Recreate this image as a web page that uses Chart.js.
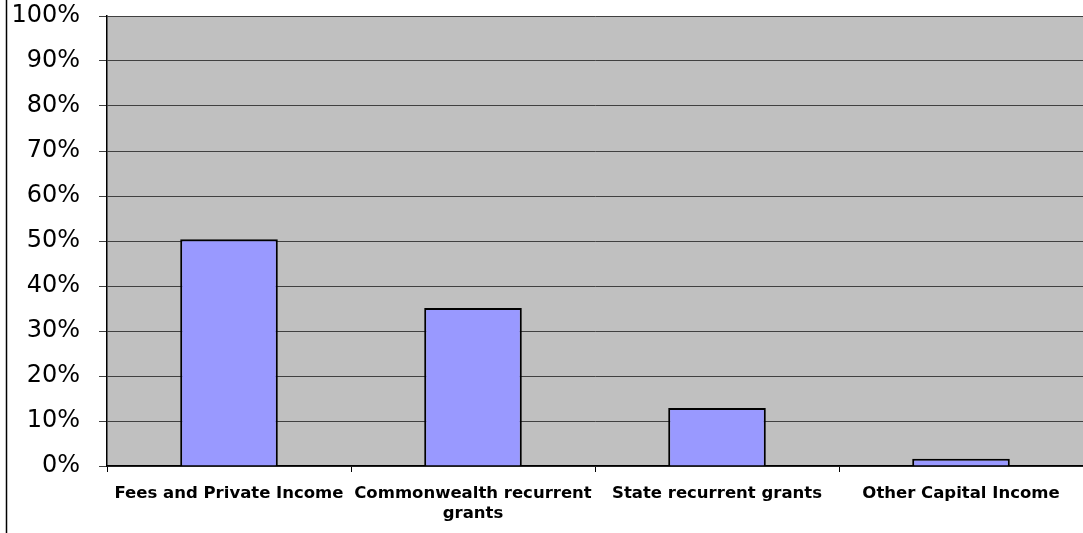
<!DOCTYPE html>
<html>
<head>
<meta charset="utf-8">
<script src="https://cdn.jsdelivr.net/npm/chart.js@4"></script>
<style>
html,body{margin:0;padding:0;background:#fff;}
#wrap{position:relative;width:1083px;height:533px;}
</style>
</head>
<body>
<div id="wrap"><canvas id="c" width="1083" height="533"></canvas></div>
<script>
const categories = ["Fees and Private Income", ["Commonwealth recurrent", "grants"], "State recurrent grants", "Other Capital Income"];
const shares = [50.4, 35.1, 12.9, 1.6];
const yTicks = [0, 10, 20, 30, 40, 50, 60, 70, 80, 90, 100];

const bgPlugin = {
  id: 'bg',
  beforeDraw(chart) {
    const {ctx, chartArea: a} = chart;
    ctx.save();
    ctx.fillStyle = '#C0C0C0';
    ctx.fillRect(a.left, a.top, a.right - a.left, a.bottom - a.top);
    ctx.strokeStyle = '#000';
    ctx.lineWidth = 1.5;
    ctx.beginPath();
    ctx.moveTo(6.5, 0);
    ctx.lineTo(6.5, chart.height);
    ctx.stroke();
    ctx.restore();
  }
};

new Chart(document.getElementById('c'), {
  type: 'bar',
  data: {
    labels: categories,
    datasets: [{
      data: shares,
      backgroundColor: '#9999FF',
      borderColor: '#000',
      borderWidth: 2,
      barPercentage: 0.4,
      categoryPercentage: 1
    }]
  },
  options: {
    responsive: false,
    animation: false,
    layout: {padding: {top: 16, left: 0, right: 0, bottom: 0}},
    plugins: {legend: {display: false}, tooltip: {enabled: false}},
    scales: {
      x: {
        offset: true,
        grid: {offset: true, drawOnChartArea: false, tickLength: 6, color: '#000', lineWidth: 1},
        border: {color: '#000', width: 1.5},
        ticks: {color: '#000', font: {family: 'DejaVu Sans', size: 16.5, weight: 'bold', lineHeight: 1.25}, padding: 11, maxRotation: 0, autoSkip: false},
        afterFit(s) { s.height = 67; s.paddingLeft = 0; s.paddingRight = 0; }
      },
      y: {
        min: 0, max: 100,
        afterBuildTicks(s) { s.ticks = yTicks.map(v => ({value: v})); },
        grid: {color: '#404040', lineWidth: 1, tickLength: 8},
        border: {color: '#000', width: 1.5},
        ticks: {color: '#000', font: {family: 'DejaVu Sans', size: 24}, padding: 19, callback: v => v + '%'},
        afterFit(s) { s.width = 107; s.paddingTop = 0; s.paddingBottom = 0; }
      }
    }
  },
  plugins: [bgPlugin]
});
</script>
</body>
</html>
